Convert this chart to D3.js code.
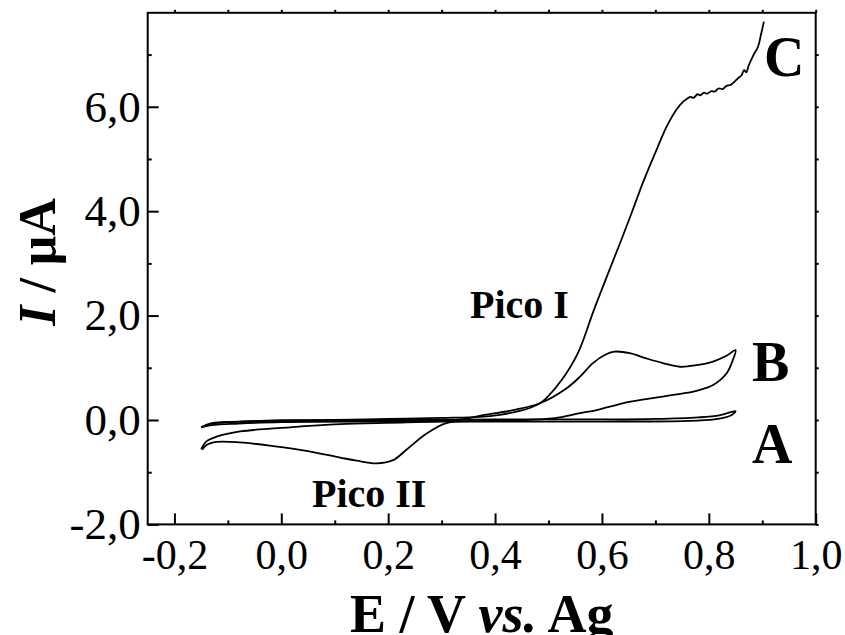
<!DOCTYPE html>
<html>
<head>
<meta charset="utf-8">
<script src="https://cdn.jsdelivr.net/npm/d3@7"></script>
<style>
    body { margin: 0; background: #fff; }
</style>
</head>
<body id="body">
<script>
//potential (V) and current (uA)
//curve A: blank, a thin loop near zero
let aE = [-0.150, -0.130, -0.077, 0.000, 0.200, 0.400, 0.600, 0.700, 0.780, 0.820, 0.850,
    0.840, 0.810, 0.750, 0.600, 0.400, 0.200, 0.000, -0.080, -0.130, -0.150];
let aI = [-0.14, -0.06, -0.03, -0.01, 0.00, 0.01, 0.01, 0.02, 0.05, 0.09, 0.17,
    0.08, 0.01, -0.02, -0.03, -0.03, -0.03, -0.04, -0.07, -0.10, -0.14];
//curve B: forward scan then return scan (Pico II on the way back)
let bE = [-0.150, -0.140, -0.121, -0.077, 0.016, 0.110, 0.234, 0.330, 0.371, 0.434, 0.484,
    0.534, 0.559, 0.583, 0.608, 0.624, 0.652, 0.683, 0.714, 0.746, 0.777, 0.808, 0.833, 0.850,
    0.845, 0.833, 0.808, 0.777, 0.746, 0.683, 0.639, 0.590, 0.559, 0.527, 0.496, 0.434, 0.370,
    0.309, 0.272, 0.234, 0.209, 0.178, 0.141, 0.110, 0.047, -0.015, -0.077, -0.121, -0.140, -0.148];
let bI = [-0.56, -0.41, -0.32, -0.22, -0.14, -0.08, -0.045, 0.00, 0.08, 0.19, 0.32,
    0.61, 0.83, 1.09, 1.26, 1.31, 1.28, 1.18, 1.09, 1.02, 1.05, 1.12, 1.23, 1.34,
    1.15, 0.89, 0.67, 0.56, 0.50, 0.40, 0.32, 0.19, 0.13, 0.06, 0.02, -0.01, -0.02,
    -0.06, -0.26, -0.57, -0.77, -0.83, -0.78, -0.72, -0.59, -0.50, -0.43, -0.42, -0.48, -0.57];
//curve C: single sweep, rises to a noisy plateau
let cE = [-0.150, -0.130, -0.077, 0.000, 0.100, 0.200, 0.300, 0.371, 0.409, 0.440, 0.465, 0.484,
    0.496, 0.525, 0.555, 0.585, 0.615, 0.634, 0.656, 0.678, 0.702, 0.721, 0.739, 0.752,
    0.760, 0.766, 0.771, 0.779, 0.784, 0.791, 0.797, 0.805, 0.811, 0.818, 0.826, 0.833,
    0.841, 0.848, 0.855, 0.861, 0.866, 0.870, 0.875, 0.884, 0.892, 0.898, 0.903];
let cI = [-0.14, -0.07, -0.03, -0.01, 0.00, 0.02, 0.04, 0.06, 0.10, 0.16, 0.23, 0.32,
    0.42, 0.77, 1.28, 2.11, 2.90, 3.39, 3.98, 4.58, 5.17, 5.62, 5.94, 6.10,
    6.16, 6.19, 6.17, 6.24, 6.22, 6.27, 6.25, 6.30, 6.29, 6.35, 6.34, 6.40,
    6.42, 6.48, 6.55, 6.60, 6.70, 6.66, 6.80, 7.00, 7.15, 7.40, 7.63];
//ticks
let xMajor = [-0.2, 0.0, 0.2, 0.4, 0.6, 0.8, 1.0];
let xMinor = [-0.1, 0.1, 0.3, 0.5, 0.7, 0.9];
let yMajor = [-2, 0, 2, 4, 6];
let yMinor = [-1, 1, 3, 5, 7];

let width = 845;
let height = 635;
let plotLeft = 147.7, plotRight = 815.7, plotTop = 12.8, plotBottom = 524.4;
let serif = "'Liberation Serif', 'Times New Roman', serif";

let svg = d3.select("body")
    .append("svg")
    .attr("width", width)
    .attr("height", height)
    .style("font-family", serif);

let xScale = d3.scaleLinear().domain([-0.25, 1.0]).range([plotLeft, plotRight]);
let yScale = d3.scaleLinear().domain([-2, 7.8]).range([plotBottom, plotTop]);
let comma = (d) => d.toFixed(1).replace(".", ",");

//bottom axis, major ticks with labels
svg.append("g")
    .attr("class", "xlab")
    .attr("transform", "translate(0," + plotBottom + ")")
    .call(d3.axisBottom(xScale).tickValues(xMajor).tickSize(-11).tickPadding(15).tickFormat(comma));
//bottom minor ticks
svg.append("g")
    .attr("transform", "translate(0," + plotBottom + ")")
    .call(d3.axisBottom(xScale).tickValues(xMinor).tickSize(-4).tickFormat(""));
//left axis
svg.append("g")
    .attr("class", "ylab")
    .attr("transform", "translate(" + plotLeft + ",0)")
    .call(d3.axisLeft(yScale).tickValues(yMajor).tickSize(-11).tickPadding(7).tickFormat(comma));
svg.append("g")
    .attr("transform", "translate(" + plotLeft + ",0)")
    .call(d3.axisLeft(yScale).tickValues(yMinor).tickSize(-4).tickFormat(""));
//top and right: small outward ticks only
svg.append("g")
    .attr("transform", "translate(0," + plotTop + ")")
    .call(d3.axisTop(xScale).tickValues(xMajor.concat(xMinor)).tickSize(3).tickFormat(""));
svg.append("g")
    .attr("transform", "translate(" + plotRight + ",0)")
    .call(d3.axisRight(yScale).tickValues(yMajor.concat(yMinor)).tickSize(3).tickFormat(""));

svg.selectAll(".domain").remove();
svg.selectAll(".tick line").attr("stroke", "#000").attr("stroke-width", 2);
svg.selectAll(".tick text")
    .attr("fill", "#000")
    .style("font-family", serif);
svg.selectAll(".xlab .tick text").style("font-size", "42px");
svg.selectAll(".ylab .tick text").style("font-size", "45px");

//frame
svg.append("rect")
    .attr("x", plotLeft)
    .attr("y", plotTop)
    .attr("width", plotRight - plotLeft)
    .attr("height", plotBottom - plotTop)
    .attr("fill", "none")
    .attr("stroke", "#000")
    .attr("stroke-width", 2);

//the three voltammograms
let line = d3.line()
    .x((d) => xScale(d[0]))
    .y((d) => yScale(d[1]))
    .curve(d3.curveCatmullRom.alpha(0.5));
[[aE, aI], [bE, bI], [cE, cI]].forEach(function (s) {
    svg.append("path")
        .datum(d3.zip(s[0], s[1]))
        .attr("d", line)
        .attr("fill", "none")
        .attr("stroke", "#000")
        .attr("stroke-width", 1.8)
        .attr("stroke-linejoin", "round");
});

//curve letters and peak names
function label(txt, x, y, size) {
    svg.append("text")
        .attr("x", x)
        .attr("y", y)
        .text(txt)
        .style("font-size", size + "px")
        .style("font-weight", "bold");
}
label("C", 764, 76, 56);
label("B", 752, 381, 56);
label("A", 752, 463, 56);
label("Pico I", 470, 318, 40);
label("Pico II", 312, 507, 40);

//axis titles
let xt = svg.append("text")
    .attr("x", (plotLeft + plotRight) / 2)
    .attr("y", 632)
    .attr("text-anchor", "middle")
    .style("font-size", "54px")
    .style("font-weight", "bold");
xt.append("tspan").text("E / V ");
xt.append("tspan").style("font-style", "italic").text("vs.");
xt.append("tspan").text(" Ag");

let yt = svg.append("text")
    .attr("transform", "translate(55,262) rotate(-90)")
    .attr("text-anchor", "middle")
    .style("font-size", "52px")
    .style("font-weight", "bold");
yt.append("tspan").style("font-style", "italic").text("I");
yt.append("tspan").text(" / μA");
</script>
</body>
</html>
